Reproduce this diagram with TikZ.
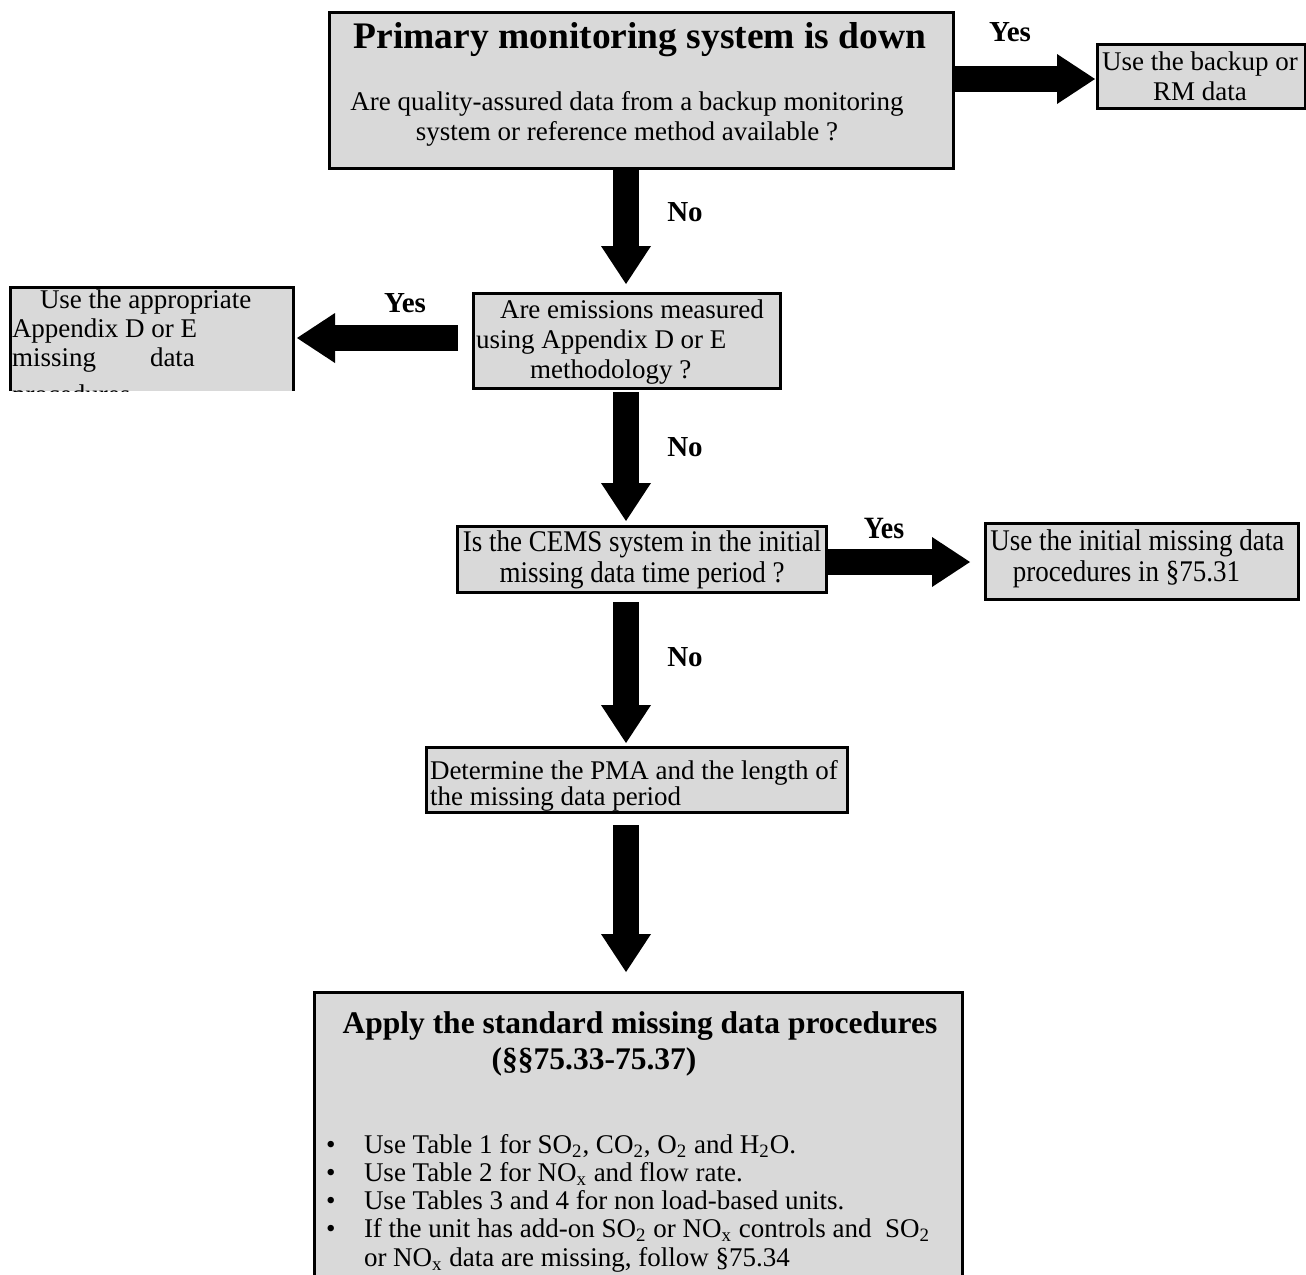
\documentclass[tikz,border=0pt]{standalone}
\usepackage{fontspec}
\setmainfont{Liberation Serif}
\usepackage{graphicx}
\usetikzlibrary{arrows.meta,calc,fit}
\definecolor{boxgray}{RGB}{217,217,217}
\begin{document}
\begin{tikzpicture}[x=0.5pt,y=-0.5pt,
  box/.style={draw=black,line width=1.5pt,fill=boxgray,inner sep=0pt,outer sep=0pt},
  openbox/.style={draw=none,fill=boxgray,inner sep=0pt,outer sep=0pt},
  txt/.style={inner sep=0pt,outer sep=0pt,font=\fontsize{13.5pt}{15pt}\selectfont},
  bline/.style={txt,anchor=base west},
  ttl/.style={inner sep=0pt,outer sep=0pt,font=\fontsize{18.75pt}{20pt}\selectfont\bfseries},
  ttlb/.style={inner sep=0pt,outer sep=0pt,font=\fontsize{15.75pt}{17pt}\selectfont\bfseries},
  lbl/.style={inner sep=0pt,outer sep=0pt,font=\fontsize{14.5pt}{16pt}\selectfont\bfseries},
  blockarrow/.style={line width=13pt,-{Triangle[width=25pt,length=19pt,line width=0pt]}},
]
\useasboundingbox (0,0) rectangle (1306,1274);
\clip (0,0) rectangle (1306,1274);

% lanes
\coordinate (spine) at (626,0);
\coordinate (yA) at (0,79);
\coordinate (yL) at (0,338);
\coordinate (yM) at (0,562);

% boxes
\node[box,fit={(329,12)(953,168)}] (top) {};
\node[box,fit={(1097,44)(1305,108)}] (backup) {};
\node[box,fit={(473,293)(780,388)}] (q2) {};
\node[openbox,fit={(10,287)(293,391)}] (lbox) {};
\draw[line width=1.5pt] (lbox.south west) -- (lbox.north west) -- (lbox.north east) -- (lbox.south east);
\node[box,fit={(457,526)(826,592)}] (q3) {};
\node[box,fit={(985,523)(1298,599)}] (init) {};
\node[box,fit={(426,747)(847,812)}] (pma) {};
\node[box,fit={(314,992)(962,1300)}] (apply) {};

% texts
\node[ttl] (toptitle) at (640,40) {Primary monitoring system is down};
\node[txt,align=center] (topq) at (627,119) {Are quality-assured data from a backup monitoring\\system or reference method available ?};
\node[txt,align=center] (backuptxt) at (1200,76) {Use the backup or\\RM data};
\node[txt,align=left,anchor=west] (q2txt) at (476,342) {\hspace*{12pt}Are emissions measured\\using Appendix D or E\\\hspace*{27pt}methodology ?};
\begin{scope}
\clip (lbox.north west) rectangle (lbox.south east);
\node[bline] (l1) at (40,308) {Use the appropriate};
\node[bline] (l2) at (12,337) {Appendix D or E};
\node[bline] (l3) at (12,366) {missing};
\node[bline] (l3b) at (150,366) {data};
\node[bline] (l4) at (12,403) {procedures};
\end{scope}
\node[inner sep=0pt,font=\fontsize{15pt}{15.5pt}\selectfont] (q3txt) at (642,561) {\scalebox{0.9}[1]{\begin{tabular}{@{}c@{}}Is the CEMS system in the initial\\missing data time period ?\end{tabular}}};
\node[inner sep=0pt,anchor=west,font=\fontsize{15pt}{15.5pt}\selectfont] (inittxt) at (990,560) {\scalebox{0.9}[1]{\begin{tabular}{@{}l@{}}Use the initial missing data\\\hspace*{12.5pt}procedures in §75.31\end{tabular}}};
\node[bline] (pma1) at (430,779) {Determine the PMA and the length of};
\node[bline] (pma2) at (430,805) {the missing data period};
\node[ttlb] (applyt1) at (640,1026) {Apply the standard missing data procedures};
\node[ttlb] (applyt2) at (594,1062) {(§§75.33-75.37)};

\node[bline] (b1) at (326,1153) {\textbullet};
\node[bline] (b2) at (326,1181) {\textbullet};
\node[bline] (b3) at (326,1209) {\textbullet};
\node[bline] (b4) at (326,1237) {\textbullet};
\node[bline] (t1) at (364,1153) {Use Table 1 for SO\textsubscript{2}, CO\textsubscript{2}, O\textsubscript{2} and H\textsubscript{2}O.};
\node[bline] (t2) at (364,1181) {Use Table 2 for NO\textsubscript{x} and flow rate.};
\node[bline] (t3) at (364,1209) {Use Tables 3 and 4 for non load-based units.};
\node[bline] (t4) at (364,1237) {If the unit has add-on SO\textsubscript{2} or NO\textsubscript{x} controls and~ SO\textsubscript{2}};
\node[bline] (t5) at (364,1266) {or NO\textsubscript{x} data are missing, follow §75.34};

% labels
\node[lbl] (yes1) at (1010,32) {Yes};
\node[lbl] (no1) at (685,212) {No};
\node[lbl] (yes2) at (405,303) {Yes};
\node[lbl] (no2) at (685,447) {No};
\node[inner sep=0pt,font=\fontsize{15.5pt}{16pt}\selectfont\bfseries] (yes3) at (884,528) {\scalebox{0.9}[1]{Yes}};
\node[lbl] (no3) at (685,657) {No};

% arrows
\draw[blockarrow,shorten >=1pt] (top.east |- yA) -- (backup.west |- yA);
\draw[blockarrow,shorten >=4.5pt] (top.south -| spine) -- (q2.north -| spine);
\draw[blockarrow,shorten <=7.5pt,shorten >=2pt] (q2.west |- yL) -- (lbox.east |- yL);
\draw[blockarrow,shorten <=2pt,shorten >=2.5pt] (q2.south -| spine) -- (q3.north -| spine);
\draw[blockarrow,shorten >=7.5pt] (q3.east |- yM) -- (init.west |- yM);
\draw[blockarrow,shorten <=5pt,shorten >=2pt] (q3.south -| spine) -- (pma.north -| spine);
\draw[blockarrow,shorten <=6.5pt,shorten >=10pt] (pma.south -| spine) -- (apply.north -| spine);
\end{tikzpicture}
\end{document}
